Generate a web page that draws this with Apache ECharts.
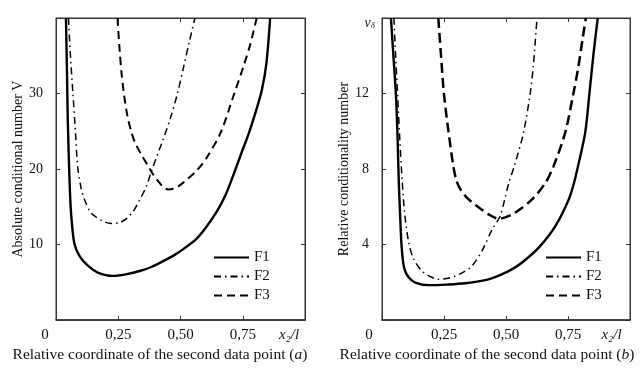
<!DOCTYPE html>
<html>
<head>
<meta charset="utf-8">
<script src="https://cdn.jsdelivr.net/npm/echarts@6/dist/echarts.min.js"></script>
<style>html,body{margin:0;padding:0;background:#fff;}#c{width:640px;height:368px;}</style>
</head>
<body>
<div id="c"></div>
<script>
// x tick values shared by both panels
const xTicks = [0, 0.25, 0.5, 0.75, 1];
const seriesNames = ['F1', 'F2', 'F3'];

// Panel (a): absolute conditional number V vs x2/l
const a_F1 = [[0.040,40],[0.044,33],[0.047,27],[0.051,22],[0.056,17],[0.062,13.5],[0.074,10.1],[0.094,8.5],[0.128,7.2],[0.168,6.3],[0.228,5.85],[0.28,6.05],[0.336,6.5],[0.38,7.0],[0.43,7.8],[0.475,8.6],[0.511,9.4],[0.565,10.8],[0.605,12.4],[0.648,14.5],[0.68,16.5],[0.71,19],[0.74,21.7],[0.775,24.8],[0.805,27.9],[0.827,30.5],[0.845,34],[0.86,40]];
const a_F2 = [[0.050,40],[0.058,35],[0.068,30],[0.078,25],[0.087,20.3],[0.1,17.6],[0.114,16],[0.141,14.2],[0.188,13.1],[0.222,12.8],[0.255,12.9],[0.282,13.4],[0.31,14.4],[0.329,15.5],[0.363,17.7],[0.383,19.7],[0.43,23.9],[0.46,26.8],[0.487,29.9],[0.513,33.6],[0.535,36.8],[0.558,40]];
const a_F3 = [[0.247,40],[0.255,36],[0.263,32.8],[0.273,29.9],[0.287,27],[0.302,25],[0.316,23.6],[0.343,21.9],[0.37,20.4],[0.39,19.3],[0.41,18.4],[0.43,17.65],[0.45,17.3],[0.48,17.5],[0.511,18.2],[0.565,19.8],[0.605,21.5],[0.661,24.8],[0.715,29.9],[0.753,33.6],[0.78,36.5],[0.806,40]];

// Panel (b): relative conditionality number vs x2/l
const b_F1 = [[0.036,16],[0.046,14],[0.056,11.95],[0.062,10],[0.066,8.13],[0.068,7.2],[0.073,5.6],[0.078,4.1],[0.084,3.2],[0.091,2.69],[0.108,2.25],[0.134,1.99],[0.188,1.85],[0.26,1.88],[0.336,1.95],[0.43,2.16],[0.484,2.43],[0.525,2.7],[0.565,3.05],[0.632,3.84],[0.699,4.98],[0.753,6.39],[0.775,7.3],[0.79,8.13],[0.819,9.9],[0.836,11.95],[0.852,14],[0.87,16]];
const b_F2 = [[0.048,16],[0.055,14],[0.063,11.95],[0.07,10],[0.078,8.13],[0.081,7.44],[0.091,5.69],[0.108,4.1],[0.128,3.22],[0.161,2.6],[0.195,2.3],[0.228,2.16],[0.26,2.2],[0.296,2.34],[0.33,2.55],[0.363,2.87],[0.403,3.66],[0.444,4.8],[0.476,5.5],[0.495,6.4],[0.512,7.3],[0.533,8.13],[0.57,9.9],[0.597,11.95],[0.61,13.43],[0.625,16]];
const b_F3 = [[0.227,16],[0.238,14],[0.25,11.95],[0.268,10],[0.288,8.13],[0.3,7.4],[0.315,6.95],[0.341,6.5],[0.383,6.04],[0.43,5.6],[0.47,5.37],[0.5,5.45],[0.537,5.69],[0.605,6.39],[0.659,7.27],[0.691,8.13],[0.738,9.9],[0.771,11.95],[0.792,13.43],[0.81,15],[0.822,16]];

// axis ranges / tick labels
const aYMax = 40, aYInterval = 10;
const bYMax = 16, bYInterval = 4;
const xEndLabel = 'x₂/l';
const bTopLabel = 'ν';
const bTopSub = 'δ';
const aYName = 'Absolute conditional number V';
const bYName = 'Relative conditionality number';
const aXName = 'Relative coordinate of the second data point (';
const aXTag = 'a';
const bXTag = 'b';

const FONT = '"Liberation Serif", "Times New Roman", serif';
const TXT = '#111';

function xAxisPair(grid, zeroPad, endPad, tag, namePad) {
  return [{
    gridIndex: grid, type: 'value', min: 0, max: 1, interval: 0.25, position: 'bottom',
    axisLine: { show: true, onZero: false, lineStyle: { color: '#222', width: 1.5 } },
    axisTick: { show: true, inside: true, length: 4, lineStyle: { color: '#333' } },
    splitLine: { show: false },
    axisLabel: {
      margin: 7, fontSize: 15, fontFamily: FONT, color: TXT, showMinLabel: true, showMaxLabel: true,
      formatter: v => v === 0 ? '{z|0}' : (v === 1 ? '{e|' + xEndLabel + '}' : v.toFixed(2).replace('.', ',')),
      rich: {
        z: { fontSize: 15, fontFamily: FONT, color: TXT, padding: [0, zeroPad, 0, 0] },
        e: { fontSize: 15, fontFamily: FONT, color: TXT, fontStyle: 'italic', padding: [0, endPad, 0, 0] }
      }
    },
    name: aXName + '{i|' + tag + '})', nameLocation: 'middle', nameGap: 26,
    nameTextStyle: { fontSize: 15.5, fontFamily: FONT, color: TXT, padding: [0, namePad, 0, 0],
      rich: { i: { fontSize: 15.5, fontFamily: FONT, color: TXT, fontStyle: 'italic' } } }
  }, {
    gridIndex: grid, type: 'value', min: 0, max: 1, interval: 0.25, position: 'top',
    axisLine: { show: true, onZero: false, lineStyle: { color: '#333', width: 1 } },
    axisTick: { show: true, inside: true, length: 4, lineStyle: { color: '#333' } },
    axisLabel: { show: false }, splitLine: { show: false }
  }];
}

function yAxisPair(grid, max, interval, name, fmt, rich) {
  return [{
    gridIndex: grid, type: 'value', min: 0, max: max, interval: interval, position: 'left',
    axisLine: { show: true, onZero: false, lineStyle: { color: '#333', width: 1 } },
    axisTick: { show: true, inside: true, length: 4, lineStyle: { color: '#333' } },
    splitLine: { show: false },
    axisLabel: { margin: 7, fontSize: 14, fontFamily: FONT, color: TXT, showMinLabel: true, showMaxLabel: true, formatter: fmt, rich: rich },
    name: name, nameLocation: 'middle', nameGap: 31,
    nameTextStyle: { fontSize: 14, fontFamily: FONT, color: TXT }
  }, {
    gridIndex: grid, type: 'value', min: 0, max: max, interval: interval, position: 'right',
    axisLine: { show: true, onZero: false, lineStyle: { color: '#333', width: 1 } },
    axisTick: { show: true, inside: true, length: 4, lineStyle: { color: '#333' } },
    axisLabel: { show: false }, splitLine: { show: false }
  }];
}

const yRich = {
  t: { fontSize: 14, fontFamily: FONT, color: TXT, padding: [0, 6, 0, 0] },
  n: { fontSize: 14, fontFamily: FONT, color: TXT, fontStyle: 'italic', padding: [10, 0, 0, 0] },
  s: { fontSize: 9, fontFamily: FONT, color: TXT, fontStyle: 'italic', padding: [16, 0, 0, 0] }
};

const styles = {
  F1: { a: { width: 2.4, type: 'solid' }, b: { width: 2.4, type: 'solid' } },
  F2: { a: { width: 1.5, type: [7, 4, 1.5, 4] }, b: { width: 1.5, type: [7, 4, 1.5, 4] } },
  F3: { a: { width: 2, type: [8, 5] }, b: { width: 2.5, type: [10, 5] } }
};

// F2 is bound to the (identically scaled) top/right axes so those axes are active
const axisUse = { F1: [0, 0], F2: [1, 1], F3: [0, 1] };

function mk(name, data, panel, idx) {
  return {
    name: name, type: 'line', data: data,
    xAxisIndex: idx * 2 + axisUse[name][0], yAxisIndex: idx * 2 + axisUse[name][1],
    symbol: 'none', showSymbol: false, smooth: 0.3, clip: true, animation: false,
    lineStyle: Object.assign({ color: '#000' }, styles[name][panel]),
    itemStyle: { color: '#000' }
  };
}

const legendBase = {
  orient: 'vertical', itemWidth: 35, itemHeight: 14, itemGap: 4, data: seriesNames,
  textStyle: { fontSize: 15, fontFamily: FONT, color: TXT }, selectedMode: false,
  itemStyle: { opacity: 0, borderWidth: 0 }
};

const chart = echarts.init(document.getElementById('c'), null, { renderer: 'canvas' });
chart.setOption({
  backgroundColor: '#fff',
  animation: false,
  grid: [
    { left: 56, top: 18, width: 249, height: 303, show: true, borderColor: '#333', borderWidth: 1, backgroundColor: 'transparent' },
    { left: 382, top: 18, width: 248, height: 303, show: true, borderColor: '#333', borderWidth: 1, backgroundColor: 'transparent' }
  ],
  legend: [
    Object.assign({ left: 208, top: 245 }, legendBase),
    Object.assign({ left: 540, top: 245 }, legendBase)
  ],
  xAxis: [].concat(xAxisPair(0, 22, 32, aXTag, 41), xAxisPair(1, 26, 37, bXTag, 38)),
  yAxis: [].concat(
    yAxisPair(0, aYMax, aYInterval, aYName, v => (v === 0 || v === aYMax) ? '' : '{t|' + v + '}', yRich),
    yAxisPair(1, bYMax, bYInterval, bYName, v => v === 0 ? '' : (v === bYMax ? '{n|' + bTopLabel + '}{s|' + bTopSub + '}' : '{t|' + v + '}'), yRich)
  ),
  series: [
    mk('F1', a_F1, 'a', 0), mk('F2', a_F2, 'a', 0), mk('F3', a_F3, 'a', 0),
    mk('F1', b_F1, 'b', 1), mk('F2', b_F2, 'b', 1), mk('F3', b_F3, 'b', 1)
  ]
});
</script>
</body>
</html>
